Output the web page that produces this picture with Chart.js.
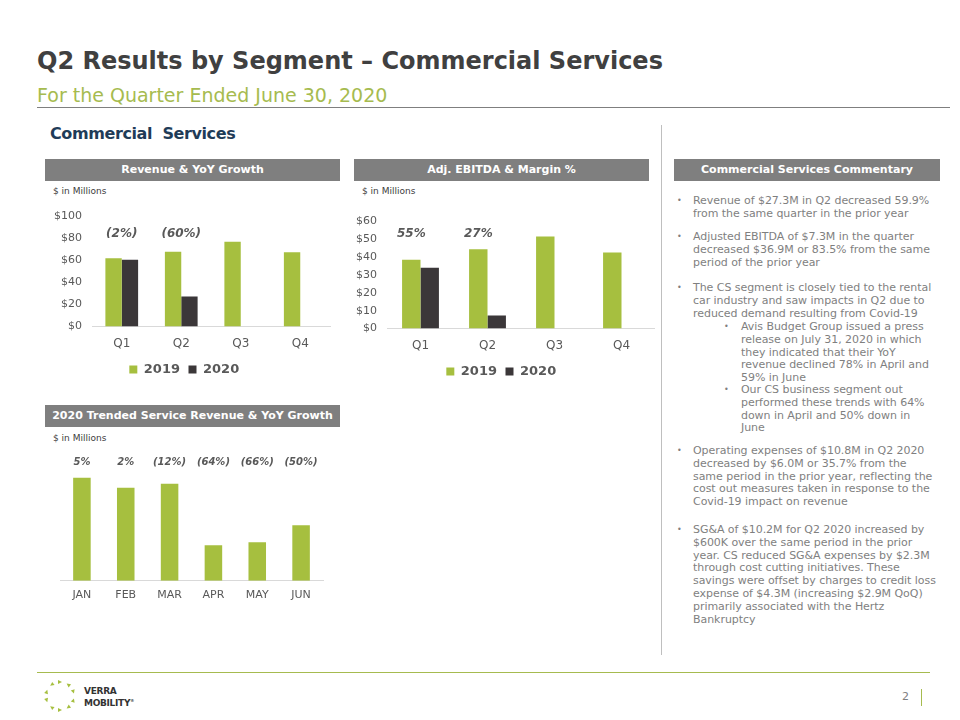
<!DOCTYPE html>
<html>
<head>
<meta charset="utf-8">
<title>Q2 Results by Segment - Commercial Services</title>
<script src="https://cdn.jsdelivr.net/npm/chart.js@4"></script>
<style>
  body { margin: 0; background: #fff; font-family: "DejaVu Sans", Verdana, sans-serif; }
  #slide { position: relative; width: 960px; height: 720px; overflow: hidden; background: #fff; }
  .abs { position: absolute; white-space: nowrap; }
  .title { left: 37px; top: 44px; font-size: 24px; font-weight: bold; color: #404040; line-height: 34px; }
  .subtitle { left: 37px; top: 82px; font-size: 19px; color: #a6bb4f; line-height: 26px; }
  .section { left: 50px; top: 123px; font-size: 16px; font-weight: bold; color: #1f3c58; line-height: 22px; letter-spacing: -0.4px; }
  .hdr { height: 22px; line-height: 22px; background: #7f7f7f; color: #fff; font-size: 11px; font-weight: bold; text-align: center; }
  .unit { font-size: 9px; color: #404040; line-height: 12px; }
  .box { position: absolute; }
  .note { font-size: 11px; color: #7f7f7f; line-height: 12.8px; letter-spacing: -0.05px; }
  .note .b { position: absolute; left: -16px; top: 0; font-size: 8px; }
  .note.sub .b { left: -17px; }
</style>
</head>
<body>
<div id="slide">
  <div class="abs title">Q2 Results by Segment – Commercial Services</div>
  <div class="abs subtitle">For the Quarter Ended June 30, 2020</div>
  <div class="abs" style="left:37px;top:107px;width:913px;height:1px;background:#7f7f7f"></div>
  <div class="abs section">Commercial&nbsp; Services</div>
  <div class="abs" style="left:661px;top:125px;width:1px;height:530px;background:#bfbfbf"></div>

  <div class="abs hdr" style="left:45px;top:159px;width:295px">Revenue &amp; YoY Growth</div>
  <div class="abs hdr" style="left:354px;top:159px;width:295px">Adj. EBITDA &amp; Margin %</div>
  <div class="abs hdr" style="left:674px;top:159px;width:266px">Commercial Services Commentary</div>
  <div class="abs hdr" style="left:45px;top:405px;width:295px">2020 Trended Service Revenue &amp; YoY Growth</div>

  <div class="abs unit" style="left:53px;top:185px">$ in Millions</div>
  <div class="abs unit" style="left:362px;top:185px">$ in Millions</div>
  <div class="abs unit" style="left:53px;top:432px">$ in Millions</div>

  <div class="box" style="left:45px;top:200px;width:295px;height:186px"><canvas id="revChart"></canvas></div>
  <div class="box" style="left:354px;top:201px;width:301px;height:187px"><canvas id="ebitdaChart"></canvas></div>
  <div class="box" style="left:45px;top:440px;width:295px;height:170px"><canvas id="trendChart"></canvas></div>

  <!-- commentary -->
  <div class="abs note" style="left:693px;top:195px"><span class="b">•</span>Revenue of $27.3M in Q2 decreased 59.9%<br>from the same quarter in the prior year</div>
  <div class="abs note" style="left:693px;top:231px"><span class="b">•</span>Adjusted EBITDA of $7.3M in the quarter<br>decreased $36.9M or 83.5% from the same<br>period of the prior year</div>
  <div class="abs note" style="left:693px;top:282px"><span class="b">•</span>The CS segment is closely tied to the rental<br>car industry and saw impacts in Q2 due to<br>reduced demand resulting from Covid-19</div>
  <div class="abs note sub" style="left:741px;top:321px"><span class="b">•</span>Avis Budget Group issued a press<br>release on July 31, 2020 in which<br>they indicated that their YoY<br>revenue declined 78% in April and<br>59% in June</div>
  <div class="abs note sub" style="left:741px;top:384px"><span class="b">•</span>Our CS business segment out<br>performed these trends with 64%<br>down in April and 50% down in<br>June</div>
  <div class="abs note" style="left:693px;top:445px"><span class="b">•</span>Operating expenses of $10.8M in Q2 2020<br>decreased by $6.0M or 35.7% from the<br>same period in the prior year, reflecting the<br>cost out measures taken in response to the<br>Covid-19 impact on revenue</div>
  <div class="abs note" style="left:693px;top:524px"><span class="b">•</span>SG&amp;A of $10.2M for Q2 2020 increased by<br>$600K over the same period in the prior<br>year. CS reduced SG&amp;A expenses by $2.3M<br>through cost cutting initiatives. These<br>savings were offset by charges to credit loss<br>expense of $4.3M (increasing $2.9M QoQ)<br>primarily associated with the Hertz<br>Bankruptcy</div>

  <!-- footer -->
  <div class="abs" style="left:37px;top:672px;width:893px;height:1px;background:#a6bb4f"></div>
  <svg class="abs" style="left:40px;top:676px" width="40" height="40" viewBox="0 0 40 40">
    <g fill="#a6bf3f" id="logo"></g>
  </svg>
  <div class="abs" style="left:84px;top:686px;font-size:9px;font-weight:bold;color:#333;line-height:10px;letter-spacing:-0.3px">VERRA<br>MOBILITY<sup style="font-size:4px">®</sup></div>
  <div class="abs" style="left:902px;top:690px;font-size:11px;color:#7f7f7f;line-height:14px">2</div>
  <div class="abs" style="left:921px;top:689px;width:1px;height:17px;background:#a6bb4f"></div>
</div>

<script>
// values ($ millions)
const quarters = ['Q1', 'Q2', 'Q3', 'Q4'];
const revenue2019 = [62.2, 68.1, 77.2, 67.6];
const revenue2020 = [60.8, 27.3, null, null];
const revenueGrowth = ['(2%)', '(60%)'];

const ebitda2019 = [38.4, 44.2, 51.4, 42.4];
const ebitda2020 = [33.9, 7.3, null, null];
const ebitdaMargin = ['55%', '27%'];

const months = ['JAN', 'FEB', 'MAR', 'APR', 'MAY', 'JUN'];
const serviceRevenue2020 = [21.7, 19.6, 20.4, 7.5, 8.1, 11.7];
const serviceGrowth = ['5%', '2%', '(12%)', '(64%)', '(66%)', '(50%)'];

const green = '#a6bf3f';
const dark = '#3b3739';
const grey = '#595959';
const fontFamily = '"DejaVu Sans", Verdana, sans-serif';

Chart.defaults.font.family = fontFamily;
Chart.defaults.color = grey;
Chart.defaults.animation = false;

// draws the growth / margin labels above the bars
const topLabels = {
  id: 'topLabels',
  afterDatasetsDraw(chart, args, opts) {
    if (!opts.labels) return;
    let ctx = chart.ctx;
    let xs = chart.scales.x;
    let ys = chart.scales.y;
    ctx.save();
    ctx.font = opts.font;
    ctx.fillStyle = grey;
    ctx.textAlign = 'center';
    ctx.textBaseline = 'middle';
    for (let i = 0; i < opts.labels.length; i++) {
      let x = opts.onBar ? chart.getDatasetMeta(0).data[i].x : xs.getPixelForValue(i);
      let y = ys.getPixelForValue(opts.level);
      ctx.fillText(opts.labels[i], x, y);
    }
    ctx.restore();
  }
};

// legend items sit close together, a little extra room after each name
function spacedLabels(chart) {
  let items = Chart.defaults.plugins.legend.labels.generateLabels(chart);
  items.forEach((it) => { it.text = it.text + '\u2002'; });
  return items;
}

function quarterChart(id, d2019, d2020, max, step, yWidth, padTop, padRight, labels, level, onBar) {
  return new Chart(document.getElementById(id), {
    type: 'bar',
    data: {
      labels: quarters,
      datasets: [
        { label: '2019', data: d2019, backgroundColor: green, categoryPercentage: 0.55, barPercentage: 1 },
        { label: '2020', data: d2020, backgroundColor: dark, categoryPercentage: 0.55, barPercentage: 1 }
      ]
    },
    options: {
      responsive: true,
      maintainAspectRatio: false,
      layout: { padding: { top: padTop, right: padRight, left: 0, bottom: 0 } },
      scales: {
        x: {
          grid: { display: false, drawTicks: false },
          border: { display: true, color: '#d9d9d9', width: 1 },
          ticks: { font: { size: 12 }, color: grey, padding: 10 }
        },
        y: {
          min: 0,
          max: max,
          afterFit: (s) => { s.width = yWidth; },
          grid: { display: false, drawTicks: false },
          border: { display: false },
          ticks: { stepSize: step, autoSkip: false, font: { size: 11 }, color: grey, padding: 10,
                   callback: (v) => '$' + v }
        }
      },
      plugins: {
        legend: {
          position: 'bottom',
          labels: { boxWidth: 8, boxHeight: 8, padding: 2, color: grey,
                    font: { size: 13, weight: 'bold' }, generateLabels: spacedLabels }
        },
        tooltip: { enabled: false },
        topLabels: { labels: labels, level: level, onBar: onBar,
                     font: 'italic bold 12px ' + fontFamily }
      }
    },
    plugins: [topLabels]
  });
}

quarterChart('revChart', revenue2019, revenue2020, 100, 20, 47, 14, 10, revenueGrowth, 84, false);
quarterChart('ebitdaChart', ebitda2019, ebitda2020, 60, 10, 33, 20, 0, ebitdaMargin, 53, true);

new Chart(document.getElementById('trendChart'), {
  type: 'bar',
  data: {
    labels: months,
    datasets: [
      { label: '2020', data: serviceRevenue2020, backgroundColor: green, categoryPercentage: 0.4, barPercentage: 1 }
    ]
  },
  options: {
    responsive: true,
    maintainAspectRatio: false,
    layout: { padding: { top: 22, right: 17, left: 15, bottom: 0 } },
    scales: {
      x: {
        grid: { display: false, drawTicks: false },
        border: { display: true, color: '#d9d9d9', width: 1 },
        ticks: { font: { size: 11 }, color: grey, padding: 8 }
      },
      y: { display: false, min: 0, max: 25 }
    },
    plugins: {
      legend: { display: false },
      tooltip: { enabled: false },
      topLabels: { labels: serviceGrowth, level: 25, onBar: false,
                   font: 'italic bold 10px ' + fontFamily }
    }
  },
  plugins: [topLabels]
});

// little arrow ring of the logo
let logo = document.getElementById('logo');
for (let i = 0; i < 10; i++) {
  let a = i * 36;
  let p = document.createElementNS('http://www.w3.org/2000/svg', 'path');
  p.setAttribute('d', 'M-2,-2 L2,0 L-2,2 Z');
  p.setAttribute('transform', 'translate(20,20) rotate(' + a + ') translate(0,-14) rotate(' + (a % 72 === 0 ? 0 : 180) + ')');
  logo.appendChild(p);
}
</script>
</body>
</html>
